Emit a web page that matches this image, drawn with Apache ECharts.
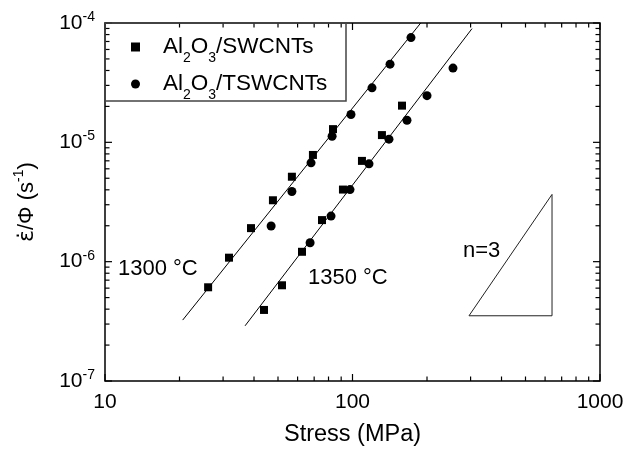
<!DOCTYPE html>
<html>
<head>
<meta charset="utf-8">
<script src="https://cdn.jsdelivr.net/npm/echarts@6/dist/echarts.min.js"></script>
<style>html,body{margin:0;padding:0;background:#fff}#c{width:627px;height:452px}</style>
</head>
<body>
<div id="c"></div>
<script>
// ---- data ----
const swcnt1300X = [26.1, 31.7, 38.9, 47.7, 56.9, 69.2, 83.4];
const swcnt1300Y = [6.1e-7, 1.08e-6, 1.91e-6, 3.27e-6, 5.15e-6, 7.84e-6, 1.29e-5];
const swcnt1350X = [43.9, 51.9, 62.5, 75.3, 91.5, 109.2, 131.5, 158.5];
const swcnt1350Y = [3.94e-7, 6.34e-7, 1.21e-6, 2.23e-6, 4.02e-6, 6.99e-6, 1.15e-5, 2.03e-5];
const tswcnt1300X = [46.9, 56.9, 68.0, 82.7, 98.6, 119.9, 141.8, 172.3];
const tswcnt1300Y = [1.99e-6, 3.87e-6, 6.73e-6, 1.125e-5, 1.71e-5, 2.86e-5, 4.52e-5, 7.55e-5];
const tswcnt1350X = [67.4, 81.9, 97.7, 116.6, 140.4, 166.0, 200, 254.7];
const tswcnt1350Y = [1.44e-6, 2.41e-6, 4.02e-6, 6.6e-6, 1.063e-5, 1.53e-5, 2.46e-5, 4.19e-5];
const fit1300X = [20.6, 188.6];
const fit1300Y = [3.24e-7, 1e-4];
const fit1350X = [36.8, 304];
const fit1350Y = [2.9e-7, 8.97e-5];
const triangleX = [295.6, 640, 640, 295.6];
const triangleY = [3.52e-7, 3.52e-7, 3.66e-6, 3.52e-7];

const xMin = 10, xMax = 1000, yMin = 1e-7, yMax = 1e-4;
const xMajorTicks = [10, 100, 1000];
const xTickLabels = ['10', '100', '1000'];
const yMajorTicks = [1e-7, 1e-6, 1e-5, 1e-4];
const yTickExponents = ['-7', '-6', '-5', '-4'];
const legendNames = ['Al2O3/SWCNTs', 'Al2O3/TSWCNTs'];
const legendRich = ['{n|Al}{s|2}{n|O}{s|3}{n|/SWCNTs}', '{n|Al}{s|2}{n|O}{s|3}{n|/TSWCNTs}'];

function minorTicks(majors) {
  const out = [];
  for (let i = 0; i < majors.length - 1; i++) {
    for (let k = 2; k <= 9; k++) out.push(majors[i] * k);
  }
  return out;
}
const xMinorTicks = minorTicks(xMajorTicks);
const yMinorTicks = minorTicks(yMajorTicks);

const FONT = "'Liberation Sans', Arial, Helvetica, sans-serif";
const zip = (xs, ys) => xs.map((x, i) => [x, ys[i]]);

const MAJOR_LEN = 7, MINOR_LEN = 4.5;
const xTickData = xMajorTicks.map(v => [v, 1e-6, MAJOR_LEN]).concat(xMinorTicks.map(v => [v, 1e-6, MINOR_LEN]));
const yTickData = yMajorTicks.map(v => [50, v, MAJOR_LEN]).concat(yMinorTicks.map(v => [50, v, MINOR_LEN]));

const chart = echarts.init(document.getElementById('c'), null, {renderer: 'canvas'});

const option = {
  animation: false,
  backgroundColor: '#fff',
  textStyle: {fontFamily: FONT},
  grid: {left: 105, right: 27, top: 23, bottom: 66, show: true, borderColor: '#000', borderWidth: 1.5, backgroundColor: 'transparent'},
  xAxis: {
    type: 'log', logBase: 10, min: xMin, max: xMax,
    axisLine: {show: false}, axisTick: {show: false}, splitLine: {show: false},
    axisLabel: {
      fontSize: 21, color: '#000', margin: 11, fontFamily: FONT,
      formatter: v => { const i = xMajorTicks.findIndex(t => Math.abs(t - v) / t < 1e-6); return i >= 0 ? xTickLabels[i] : ''; }
    },
    name: 'Stress (MPa)', nameLocation: 'middle', nameGap: 42,
    nameTextStyle: {fontSize: 23.5, color: '#000', fontFamily: FONT}
  },
  yAxis: {
    type: 'log', logBase: 10, min: yMin, max: yMax,
    axisLine: {show: false}, axisTick: {show: false}, splitLine: {show: false},
    axisLabel: {
      margin: 10, color: '#000', fontFamily: FONT,
      formatter: v => { const i = yMajorTicks.findIndex(t => Math.abs(t - v) / t < 1e-6); return i >= 0 ? '{b|10}{s|' + yTickExponents[i] + '}' : ''; },
      rich: {
        b: {fontSize: 21, lineHeight: 26, verticalAlign: 'middle', color: '#000', fontFamily: FONT},
        s: {fontSize: 14, lineHeight: 14, verticalAlign: 'top', color: '#000', fontFamily: FONT}
      }
    },
    name: '{e|\u03B5\u0307}{n|/\u03A6 (s}{s|-1}{n|)}', nameLocation: 'middle', nameGap: 63, nameRotate: 90,
    nameTextStyle: {
      color: '#000', fontFamily: FONT,
      rich: {
        e: {fontSize: 22, lineHeight: 30, verticalAlign: 'middle', color: '#000', fontFamily: "'DejaVu Sans', sans-serif"},
        n: {fontSize: 22, lineHeight: 30, verticalAlign: 'middle', color: '#000', fontFamily: FONT},
        s: {fontSize: 14, lineHeight: 14, verticalAlign: 'top', color: '#000', fontFamily: FONT}
      }
    }
  },
  legend: {
    orient: 'vertical', left: 126, top: 24, itemWidth: 9, itemHeight: 9, itemGap: 1,
    selectedMode: false,
    data: [{name: legendNames[0], icon: 'rect', itemStyle: {color: '#000', opacity: 1}}, {name: legendNames[1], icon: 'circle', itemStyle: {color: '#000', opacity: 1}}],
    formatter: name => legendRich[legendNames.indexOf(name)],
    textStyle: {
      padding: [0, 0, 0, 18],
      rich: {
        n: {fontSize: 22.5, lineHeight: 36, verticalAlign: 'middle', color: '#000', fontFamily: FONT},
        s: {fontSize: 14, lineHeight: 14, padding: [22, 0, 0, 0], verticalAlign: 'top', color: '#000', fontFamily: FONT}
      }
    }
  },
  graphic: [
    {type: 'rect', shape: {x: 105, y: 23, width: 241, height: 78}, style: {fill: 'none', stroke: '#444', lineWidth: 1.5}, z: 50},
    {type: 'text', x: 118, y: 269, style: {text: '1300 \u00B0C', fontSize: 22, fill: '#000', fontFamily: FONT, verticalAlign: 'middle'}, z: 50},
    {type: 'text', x: 308, y: 278, style: {text: '1350 \u00B0C', fontSize: 22, fill: '#000', fontFamily: FONT, verticalAlign: 'middle'}, z: 50},
    {type: 'text', x: 463, y: 251, style: {text: 'n=3', fontSize: 22, fill: '#000', fontFamily: FONT, verticalAlign: 'middle'}, z: 50}
  ],
  series: [
    {name: 'fit1300', type: 'line', data: zip(fit1300X, fit1300Y), showSymbol: false, lineStyle: {color: '#000', width: 1}, silent: true, z: 2},
    {name: 'fit1350', type: 'line', data: zip(fit1350X, fit1350Y), showSymbol: false, lineStyle: {color: '#000', width: 1}, silent: true, z: 2},
    {name: 'n3', type: 'line', data: zip(triangleX, triangleY), showSymbol: false, lineStyle: {color: '#222', width: 1}, silent: true, z: 2},
    {name: legendNames[0], type: 'scatter', data: zip(swcnt1300X, swcnt1300Y), symbol: 'rect', symbolSize: 8, itemStyle: {color: '#000', opacity: 1}, z: 3},
    {name: legendNames[0], type: 'scatter', data: zip(swcnt1350X, swcnt1350Y), symbol: 'rect', symbolSize: 8, itemStyle: {color: '#000', opacity: 1}, z: 3},
    {name: legendNames[1], type: 'scatter', data: zip(tswcnt1300X, tswcnt1300Y), symbol: 'circle', symbolSize: 9, itemStyle: {color: '#000', opacity: 1}, z: 3},
    {name: legendNames[1], type: 'scatter', data: zip(tswcnt1350X, tswcnt1350Y), symbol: 'circle', symbolSize: 9, itemStyle: {color: '#000', opacity: 1}, z: 3},
    {
      name: 'xticks', type: 'custom', data: xTickData, encode: {x: 0, y: 1}, silent: true, clip: false, z: 4,
      renderItem: (params, api) => {
        const v = api.value(0), len = api.value(2);
        const b = api.coord([v, yMin]), t = api.coord([v, yMax]);
        return {type: 'group', children: [
          {type: 'line', shape: {x1: b[0], y1: b[1], x2: b[0], y2: b[1] - len}, style: {stroke: '#000', lineWidth: 1.2}},
          {type: 'line', shape: {x1: t[0], y1: t[1], x2: t[0], y2: t[1] + len}, style: {stroke: '#000', lineWidth: 1.2}}
        ]};
      }
    },
    {
      name: 'yticks', type: 'custom', data: yTickData, encode: {x: 0, y: 1}, silent: true, clip: false, z: 4,
      renderItem: (params, api) => {
        const v = api.value(1), len = api.value(2);
        const l = api.coord([xMin, v]), r = api.coord([xMax, v]);
        return {type: 'group', children: [
          {type: 'line', shape: {x1: l[0], y1: l[1], x2: l[0] + len, y2: l[1]}, style: {stroke: '#000', lineWidth: 1.2}},
          {type: 'line', shape: {x1: r[0], y1: r[1], x2: r[0] - len, y2: r[1]}, style: {stroke: '#000', lineWidth: 1.2}}
        ]};
      }
    }
  ]
};
chart.setOption(option);
</script>
</body>
</html>
